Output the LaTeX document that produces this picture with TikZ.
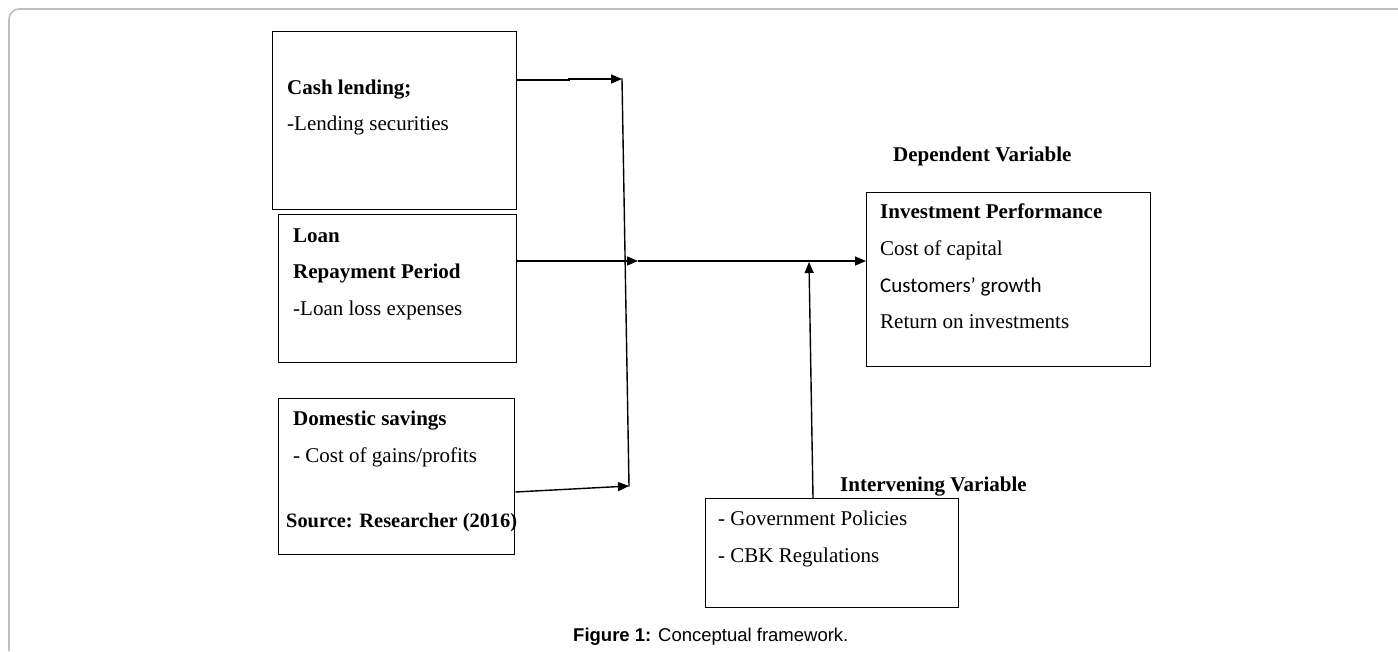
\documentclass[tikz,border=0pt]{standalone}
\usepackage{fontspec}
\setmainfont{Liberation Serif}
\newfontfamily\calibfont{Carlito}
\newfontfamily\arialfont{Liberation Sans}
\usetikzlibrary{arrows.meta}
\tikzset{
  boxnode/.style={draw=black, line width=1.4pt, inner sep=0pt, anchor=north west},
  txt/.style={anchor=base west, inner sep=0pt, font=\fontsize{21}{25}\selectfont},
  btxt/.style={anchor=base west, inner sep=0pt, font=\fontsize{21}{25}\selectfont\bfseries},
  conn/.style={line width=1.4pt, line cap=rect},
  arr/.style={line width=1.4pt, -{Triangle[length=11pt,width=9pt]}},
  frameline/.style={draw=black!25, line width=1.6pt, rounded corners=10pt}
}
\begin{document}
\begin{tikzpicture}[x=1pt,y=-1pt]
\useasboundingbox (0,0) rectangle (1398,651);
\draw[frameline] (1398,9) -- (9,9) -- (9,651);

% boxes
\node[boxnode, minimum width=244pt, minimum height=178pt] (b1) at (272,31) {};
\node[boxnode, minimum width=238pt, minimum height=148pt] (b2) at (278,214) {};
\node[boxnode, minimum width=236pt, minimum height=156pt] (b3) at (278,398) {};
\node[boxnode, minimum width=284pt, minimum height=174pt] (ip) at (866,192) {};
\node[boxnode, minimum width=253pt, minimum height=109pt] (iv) at (705,498) {};

% texts
\node[btxt] (t11) at (287,94) {Cash lending;};
\node[txt]  (t12) at (287,130) {-Lending securities};
\node[btxt] (t21) at (293,242) {Loan};
\node[btxt] (t22) at (293,278) {Repayment Period};
\node[txt]  (t23) at (293,315) {-Loan loss expenses};
\node[btxt] (t31) at (293,425) {Domestic savings};
\node[txt]  (t32) at (293,462) {- Cost of gains/profits};
\node[btxt, font=\fontsize{20.4}{25}\selectfont\bfseries] (t33) at (286,527) {Source: Researcher (2016)};
\node[btxt] (dv)  at (893,161) {Dependent Variable};
\node[btxt] (t41) at (880,218) {Investment Performance};
\node[txt]  (t42) at (880,255) {Cost of capital};
\node[txt, font=\fontsize{21}{25}\calibfont] (t43) at (880,292) {Customers’ growth};
\node[txt]  (t44) at (880,328) {Return on investments};
\node[btxt] (ivl) at (840,491) {Intervening Variable};
\node[txt]  (t51) at (718,525) {- Government Policies};
\node[txt]  (t52) at (718,562) {- CBK Regulations};
\node[anchor=base west, inner sep=0pt, font=\fontsize{18.5}{22}\arialfont] (cap) at (573,641) {\textbf{Figure 1:} Conceptual framework.};

% junction coordinates
\coordinate (s1) at (569,80);
\coordinate (s1b) at (569,79);
\coordinate (j1) at (622,79);
\coordinate (j3) at (629,486);
\coordinate (j2) at (638,261);
\coordinate (s3) at (514,492);
\coordinate (iva) at (813,0);
\coordinate (j4) at (809,262);

% connectors
\draw[arr] (s1 -| b1.east) -- (s1) -- (s1b) -- (j1);
\draw[conn] (j1) -- (j3);
\draw[arr] (j2 -| b2.east) -- (j2);
\draw[arr] (j2) -- (j2 -| ip.west);
\draw[arr] (s3 -| b3.east) -- (j3);
\draw[arr] (iva |- iv.north) -- (j4);
\end{tikzpicture}
\end{document}
